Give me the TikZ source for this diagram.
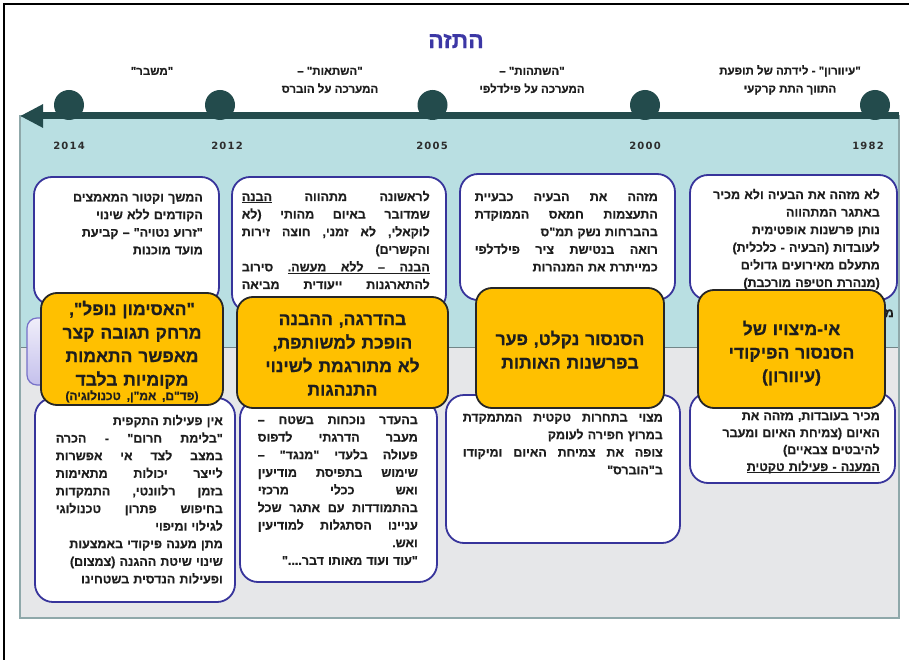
\documentclass[tikz,border=0pt]{standalone}
\usepackage{fontspec}
\usetikzlibrary{arrows.meta}
\TeXXeTstate=1
\newfontfamily\hb[Script=Hebrew,BoldFont={Liberation Sans Bold},BoldFeatures={FakeBold=0.6}]{Liberation Sans}
\newfontfamily\yr[LetterSpace=12]{DejaVu Sans}
\definecolor{boxblue}{RGB}{55,52,155}
\definecolor{orng}{RGB}{255,192,0}
\definecolor{obord}{RGB}{38,38,38}
\definecolor{txtc}{RGB}{30,30,30}
\definecolor{lblue}{RGB}{185,223,226}
\definecolor{lgray}{RGB}{230,231,233}
\definecolor{bord}{RGB}{143,168,170}
\definecolor{tl}{RGB}{35,75,76}
\definecolor{ttl}{RGB}{60,55,165}
\definecolor{yrc}{RGB}{45,45,45}
\definecolor{lavtop}{RGB}{240,238,250}
\definecolor{lavbot}{RGB}{196,192,236}
\definecolor{lavb}{RGB}{118,112,200}
\newcommand\RL[1]{\hbox to \hsize{\hfil\beginR#1\endR}}
\newcommand\CL[1]{\hbox to \hsize{\hfil\beginR#1\endR\hfil}}
\newcommand\UL[1]{\hbox{\setbox0\hbox{\beginR#1\endR}\rlap{\vrule height-1.4pt depth2.4pt width\wd0}\box0}}
\newcommand\ulfil{\leaders\vrule height-1.4pt depth2.4pt\hfil}
\makeatletter
% justified right-to-left line: words placed in reverse order with stretchable gaps
\def\JL#1{\def\jl@acc{}\jl@split#1 \@nil\hbox to\hsize{\jl@acc}}
\def\jl@split#1 #2\@nil{%
  \ifx\jl@acc\@empty
    \def\jl@acc{#1}%
  \else
    \toks@\expandafter{\jl@acc}%
    \edef\jl@acc{\unexpanded{#1\hfil}\the\toks@}%
  \fi
  \ifx\relax#2\relax\else\jl@split#2\@nil\fi}
\makeatother
\tikzset{
  wbox/.style={draw=boxblue, line width=1.8pt, fill=white, rounded corners=18pt, inner sep=0pt},
  obox/.style={draw=obord, line width=1.8pt, fill=orng, rounded corners=16pt, inner sep=0pt},
  txt/.style={inner sep=0pt, font=\hb\bfseries\fontsize{12.5}{17.6}\selectfont, text=txtc},
  otxt/.style={inner sep=0pt, anchor=base, font=\hb\bfseries\fontsize{17.5}{23.5}\selectfont, text=txtc},
  lbl/.style={inner sep=0pt, align=center, font=\hb\bfseries\fontsize{11.5}{18}\selectfont, text=txtc},
  yrs/.style={inner sep=0pt, font=\yr\bfseries\fontsize{10}{12}\selectfont, text=yrc},
  dot/.style={circle, fill=tl, minimum size=30pt, inner sep=0pt},
}
\begin{document}
\begin{tikzpicture}[x=1pt,y=-1pt]
\useasboundingbox (0,0) rectangle (909,660);
% frame
\draw[black, line width=1.2pt] (4,660) -- (4,4) -- (909,4);
% background panels
\fill[lblue] (20,116) rectangle (899,347);
\fill[lgray] (20,347) rectangle (899,618);
\draw[bord!80!black, line width=0.8pt] (20,347) -- (899,347);
\draw[bord, line width=1.6pt] (20,116) rectangle (899,618);
% title
\node[font=\hb\bfseries\fontsize{23}{26}\selectfont, text=ttl, inner sep=0pt] (title) at (456,41) {\beginR התזה\endR};
% timeline
\coordinate (tlE) at (899,116);
\coordinate (tlW) at (20,116);
\draw[tl, line width=7pt, -{Triangle[length=23pt,width=22pt]}] (tlE) -- (tlW);
\node[dot] (d14) at (69,105) {};
\node[dot] (d12) at (220,105) {};
\node[dot] (d05) at (432.5,105) {};
\node[dot] (d00) at (645,105) {};
\node[dot] (d82) at (875,105) {};
% years
\node[yrs] (y14) at (69,146) {2014};
\node[yrs] (y12) at (227,146) {2012};
\node[yrs] (y05) at (432,146) {2005};
\node[yrs] (y00) at (645,146) {2000};
\node[yrs] (y82) at (868,146) {1982};
% labels
\node[lbl] (l14) at (152,71) {\beginR"משבר"\endR};
\node[lbl] (l12) at (330,80) {\beginR"השתאות" –\endR\\\beginR המערכה על הוברס\endR};
\node[lbl] (l05) at (532,80) {\beginR"השתהות" –\endR\\\beginR המערכה על פילדלפי\endR};
\node[lbl] (l82) at (790,80) {\beginR"עיוורון" - לידתה של תופעת\endR\\\beginR התווך התת קרקעי\endR};
% hidden letter at right edge
\node[txt, anchor=base west] (mm) at (884.5,317) {\beginR מ\endR};
% white boxes
\node[wbox, minimum width=207pt, minimum height=125pt] (t1) at (793.5,237.5) {};
\node[wbox, minimum width=205pt, minimum height=90pt] (b1) at (792.5,438) {};
\node[wbox, minimum width=215pt, minimum height=126pt] (t2) at (567.5,237) {};
\node[wbox, minimum width=234pt, minimum height=148pt] (b2) at (563,469) {};
\node[wbox, minimum width=214pt, minimum height=135pt] (t3) at (339,244.5) {};
\node[wbox, minimum width=197pt, minimum height=182pt] (b3) at (338.5,491) {};
\node[wbox, minimum width=185pt, minimum height=128pt] (t4) at (126.5,241) {};
\node[wbox, minimum width=200pt, minimum height=204pt] (b4) at (135,500) {};
% texts in white boxes
\node[txt, text width=200pt, anchor=base east] (t1x) at (880,199) {%
\RL{לא מזהה את הבעיה ולא מכיר}
\RL{באתגר המתהווה}
\RL{נותן פרשנות אופטימית}
\RL{לעובדות (הבעיה - כלכלית)}
\RL{מתעלם מאירועים גדולים}
\RL{(מנהרת חטיפה מורכבת)}};
\node[txt, text width=200pt, anchor=base east, font=\hb\bfseries\fontsize{12.5}{17}\selectfont] (b1x) at (880,420) {%
\RL{מכיר בעובדות, מזהה את}
\RL{האיום (צמיחת האיום ומעבר}
\RL{להיבטים צבאיים)}
\RL{\UL{המענה - פעילות טקטית}}};
\node[txt, text width=183pt, anchor=base east] (t2x) at (658,201) {%
\JL{מזהה את הבעיה כבעיית}
\JL{התעצמות חמאס הממוקדת}
\RL{בהברחות נשק תמ"ס}
\JL{רואה בנטישת ציר פילדלפי}
\RL{כמייתרת את המנהרות}};
\node[txt, text width=200pt, anchor=base east] (b2x) at (663,421.5) {%
\JL{מצוי בתחרות טקטית המתמקדת}
\RL{במרוץ חפירה לעומק}
\JL{צופה את צמיחת האיום ומיקודו}
\RL{ב"הוברס"}};
\node[txt, text width=188pt, anchor=base east] (t3x) at (430,201) {%
\JL{לראשונה מתהווה \UL{הבנה}}
\JL{שמדובר באיום מהותי (לא}
\JL{לוקאלי, לא זמני, חוצה זירות}
\RL{והקשרים)}
\hbox to\hsize{סירוב\hfil\UL{מעשה.}\ulfil\UL{ללא}\ulfil\UL{–}\ulfil\UL{הבנה}}
\JL{להתארגנות ייעודית מביאה}};
\node[txt, text width=160pt, anchor=base east] (b3x) at (418,424) {%
\JL{בהעדר נוכחות בשטח –}
\JL{מעבר הדרגתי לדפוס}
\JL{פעולה בלעדי "מנגד" –}
\JL{שימוש בתפיסת מודיעין}
\JL{ואש ככלי מרכזי}
\JL{בהתמודדות עם אתגר שכל}
\JL{עניינו הסתגלות למודיעין}
\RL{ואש.}
\RL{"עוד ועוד מאותו דבר...."}};
\node[txt, text width=170pt, anchor=base east] (t4x) at (203,201.5) {%
\RL{המשך וקטור המאמצים}
\RL{הקודמים ללא שינוי}
\RL{"זרוע נטויה" – קביעת}
\RL{מועד מוכנות}};
\node[txt, text width=167pt, anchor=base east] (b4x) at (223,425) {%
\RL{אין פעילות התקפית}
\JL{"בלימת חרום" - הכרה}
\JL{במצב לצד אי אפשרות}
\JL{לייצר יכולות מתאימות}
\JL{בזמן רלוונטי, התמקדות}
\JL{בחיפוש פתרון טכנולוגי}
\RL{לגילוי ומיפוי}
\RL{מתן מענה פיקודי באמצעות}
\RL{שינוי שיטת ההגנה (צמצום)}
\RL{ופעילות הנדסית בשטחינו}};
% lavender box
\node[draw=lavb, line width=1.2pt, top color=lavtop, bottom color=lavbot, rounded corners=10pt, minimum width=48pt, minimum height=67pt, inner sep=0pt] (lav) at (51,351.5) {};
% orange boxes
\node[obox, minimum width=187pt, minimum height=118pt] (o1) at (791.5,349) {};
\node[obox, minimum width=188pt, minimum height=120pt] (o2) at (570,348) {};
\node[obox, minimum width=211pt, minimum height=111pt] (o3) at (342.5,352.5) {};
\node[obox, minimum width=182pt, minimum height=112pt] (o4) at (132,349) {};
\node[otxt, text width=180pt] (o1x) at (791.5,335) {%
\CL{אי-מיצויו של}
\CL{הסנסור הפיקודי}
\CL{(עיוורון)}};
\node[otxt, text width=180pt] (o2x) at (570,345) {%
\CL{הסנסור נקלט, פער}
\CL{בפרשנות האותות}};
\node[otxt, text width=205pt] (o3x) at (342.5,325) {%
\CL{בהדרגה, ההבנה}
\CL{הופכת למשותפת,}
\CL{לא מתורגמת לשינוי}
\CL{התנהגות}};
\node[otxt, text width=178pt] (o4x) at (132,315) {%
\CL{"האסימון נופל",}
\CL{מרחק תגובה קצר}
\CL{מאפשר התאמות}
\CL{מקומיות בלבד}
\vskip-9pt
\CL{\fontsize{12}{14}\selectfont (פד"ם, אמ"ן, טכנולוגיה)}};
\end{tikzpicture}
\end{document}
